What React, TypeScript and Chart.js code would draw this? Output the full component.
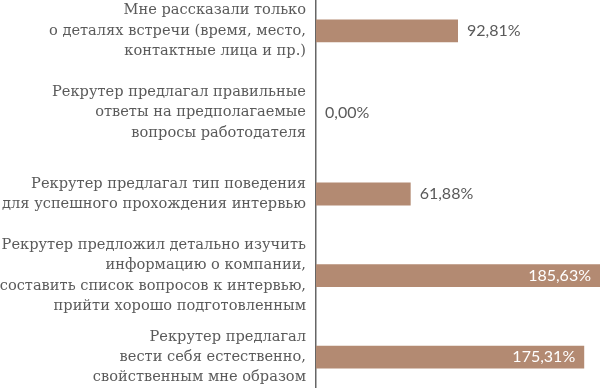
import React, { useEffect, useRef } from "react";
import { Chart, registerables } from "chart.js";

Chart.register(...registerables);

const categories: string[][] = [
  ["Мне рассказали только", "о деталях встречи (время, место,", "контактные лица и пр.)"],
  ["Рекрутер предлагал правильные", "ответы на предполагаемые", "вопросы работодателя"],
  ["Рекрутер предлагал тип поведения", "для успешного прохождения интервью"],
  ["Рекрутер предложил детально изучить", "информацию о компании,", "составить список вопросов к интервью,", "прийти хорошо подготовленным"],
  ["Рекрутер предлагал", "вести себя естественно,", "свойственным мне образом"],
];
const values: number[] = [92.81, 0.0, 61.88, 185.63, 175.31];
const valueLabels: string[] = ["92,81%", "0,00%", "61,88%", "185,63%", "175,31%"];

const BAR_COLOR = "#b38a72";
const TEXT_COLOR = "#5a5a5a";

const valueLabelPlugin = {
  id: "valueLabels",
  afterDatasetsDraw(chart: any) {
    const ctx = chart.ctx;
    const meta = chart.getDatasetMeta(0);
    const area = chart.chartArea;
    ctx.save();
    ctx.font = "16px Lato";
    ctx.textBaseline = "middle";
    meta.data.forEach((bar: any, i: number) => {
      const text = valueLabels[i];
      const w = ctx.measureText(text).width;
      const endX = bar.x;
      if (endX + 9 + w <= area.right) {
        ctx.fillStyle = TEXT_COLOR;
        ctx.textAlign = "left";
        ctx.fillText(text, Math.max(endX, area.left) + 9, bar.y);
      } else {
        ctx.fillStyle = "#ffffff";
        ctx.textAlign = "right";
        ctx.fillText(text, endX - 9, bar.y);
      }
    });
    ctx.restore();
  },
};

export default function App() {
  const canvasRef = useRef<HTMLCanvasElement | null>(null);

  useEffect(() => {
    if (!canvasRef.current) return;
    const chart = new Chart(canvasRef.current, {
      type: "bar",
      data: {
        labels: categories,
        datasets: [
          {
            data: values,
            backgroundColor: BAR_COLOR,
            borderWidth: 0,
            categoryPercentage: 1,
            barPercentage: 0.28,
          },
        ],
      },
      options: {
        indexAxis: "y",
        animation: false,
        responsive: false,
        maintainAspectRatio: false,
        layout: { padding: 0 },
        plugins: {
          legend: { display: false },
          tooltip: { enabled: false },
          title: { display: false },
        },
        scales: {
          x: {
            display: false,
            min: 0,
            max: 185.63,
          },
          y: {
            position: "left",
            grid: { display: false, drawTicks: false },
            border: { display: true, color: "#666666", width: 1.5 },
            ticks: {
              autoSkip: false,
              color: TEXT_COLOR,
              padding: 10,
              font: { family: "DejaVu Serif", size: 14.6, lineHeight: 1.4 },
            },
            afterFit(scale: any) {
              scale.width = 316;
              scale.paddingTop = 0;
              scale.paddingBottom = 0;
            },
          },
        },
      },
      plugins: [valueLabelPlugin],
    });
    return () => chart.destroy();
  }, []);

  return (
    <div style={{ position: "fixed", left: 0, top: 0, width: 600, height: 388, overflow: "hidden", background: "#fff" }}>
      <canvas ref={canvasRef} width={600} height={408} style={{ position: "absolute", left: 0, top: -10, width: 600, height: 408 }} />
    </div>
  );
}
